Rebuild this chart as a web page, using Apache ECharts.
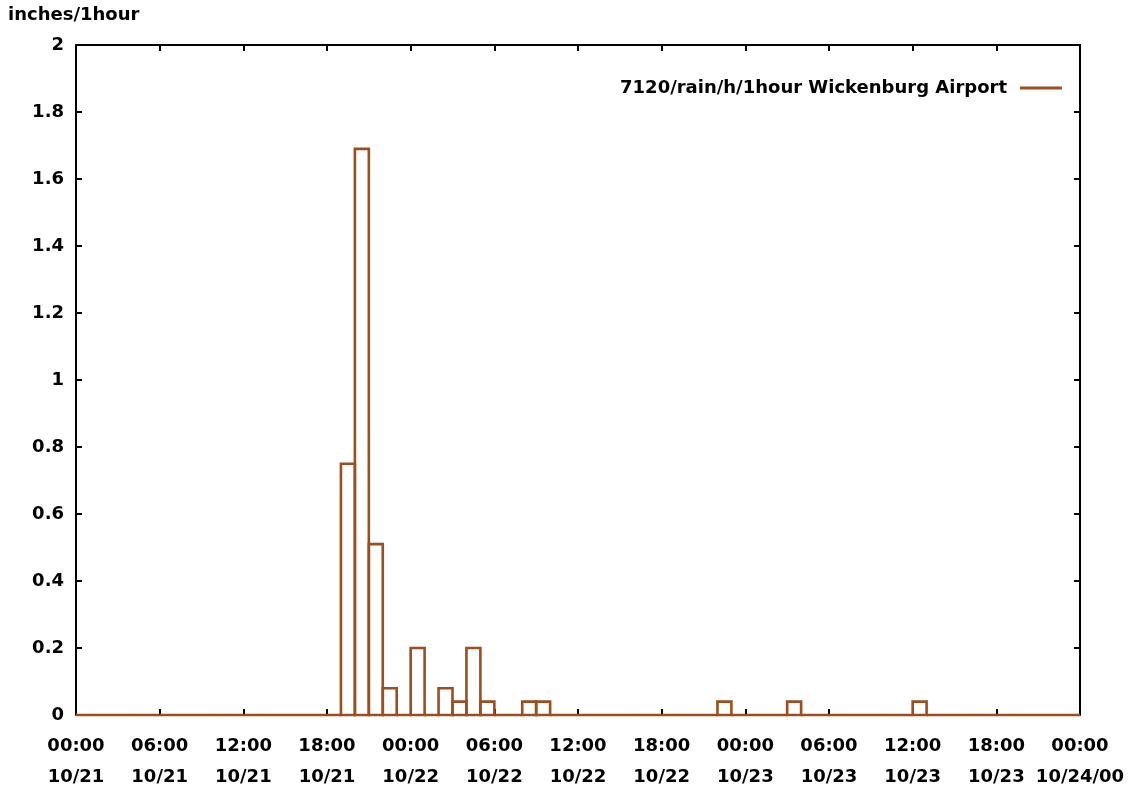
<!DOCTYPE html>
<html>
<head>
<meta charset="utf-8">
<script src="https://cdn.jsdelivr.net/npm/echarts@6/dist/echarts.min.js"></script>
<style>
html,body{margin:0;padding:0;background:#fff;}
#chart{width:1131px;height:792px;}
</style>
</head>
<body>
<div id="chart"></div>
<script>
// Hourly rain (inches per hour), 00:00 10/21 .. 23:00 10/23 (72 hours)
var rainValues = [
  0, 0, 0, 0, 0, 0, 0, 0, 0, 0, 0, 0,
  0, 0, 0, 0, 0, 0, 0, 0.75, 1.69, 0.51, 0.08, 0,
  0.2, 0, 0.08, 0.04, 0.2, 0.04, 0, 0, 0.04, 0.04, 0, 0,
  0, 0, 0, 0, 0, 0, 0, 0, 0, 0, 0.04, 0,
  0, 0, 0, 0.04, 0, 0, 0, 0, 0, 0, 0, 0,
  0.04, 0, 0, 0, 0, 0, 0, 0, 0, 0, 0, 0
];
var xTickLabels = [
  '00:00\n10/21', '06:00\n10/21', '12:00\n10/21', '18:00\n10/21',
  '00:00\n10/22', '06:00\n10/22', '12:00\n10/22', '18:00\n10/22',
  '00:00\n10/23', '06:00\n10/23', '12:00\n10/23', '18:00\n10/23',
  '00:00\n10/24/00'
];
var seriesName = '7120/rain/h/1hour Wickenburg Airport';
var yAxisTitle = 'inches/1hour';

var COLOR = '#9c4e1c';
var FONT = 'DejaVu Sans';
var FS = 18;
var BOX_LW = 2.6;

// each box starts at its hour index (hours since 00:00 10/21) and is one hour wide
var boxData = rainValues.map(function (v, i) { return [i, v]; });

var chart = echarts.init(document.getElementById('chart'), null, {renderer: 'canvas'});

function axisLine(color) {
  return {show: true, onZero: false, lineStyle: {color: color || '#000', width: 2}};
}
function ticks() {
  return {show: true, inside: true, length: 6, lineStyle: {color: '#000', width: 2}};
}

chart.setOption({
  animation: false,
  backgroundColor: '#fff',
  title: {
    text: yAxisTitle,
    left: 8, top: 6, padding: 0,
    textStyle: {fontFamily: FONT, fontWeight: 'bold', fontSize: FS, color: '#000'}
  },
  legend: {
    right: 69, top: 79, padding: 0,
    align: 'right',
    icon: 'rect',
    itemWidth: 42, itemHeight: 3,
    data: [{name: seriesName, itemStyle: {color: COLOR, borderWidth: 0}}],
    textStyle: {fontFamily: FONT, fontWeight: 'bold', fontSize: FS, color: '#000', padding: [0, 8, 0, 0]}
  },
  grid: {left: 76, right: 51, top: 45, bottom: 77, containLabel: false, outerBoundsMode: 'none'},
  xAxis: [{
    type: 'value', min: 0, max: 72, interval: 6, position: 'bottom',
    axisLine: axisLine(COLOR),
    axisTick: ticks(),
    splitLine: {show: false},
    axisLabel: {
      margin: 16, lineHeight: 31,
      fontFamily: FONT, fontWeight: 'bold', fontSize: FS, color: '#000',
      formatter: function (v) { return xTickLabels[Math.round(v / 6)]; }
    }
  }, {
    type: 'value', min: 0, max: 72, interval: 6, position: 'top',
    axisLine: axisLine(), axisTick: ticks(),
    splitLine: {show: false}, axisLabel: {show: false}
  }],
  yAxis: [{
    type: 'value', min: 0, max: 2, interval: 0.2, position: 'left',
    axisLine: axisLine(), axisTick: ticks(),
    splitLine: {show: false},
    axisLabel: {margin: 12, fontFamily: FONT, fontWeight: 'bold', fontSize: FS, color: '#000'}
  }, {
    type: 'value', min: 0, max: 2, interval: 0.2, position: 'right',
    axisLine: axisLine(), axisTick: ticks(),
    splitLine: {show: false}, axisLabel: {show: false}
  }],
  series: [{
    name: seriesName,
    type: 'custom',
    xAxisIndex: 0, yAxisIndex: 0,
    data: boxData,
    encode: {x: 0, y: 1},
    itemStyle: {color: COLOR},
    clip: false,
    z: 3,
    renderItem: function (params, api) {
      var h = api.value(0), v = api.value(1);
      var top = api.coord([h, v]);
      var bottom = api.coord([h + 1, 0]);
      return {
        type: 'rect',
        shape: {x: top[0], y: top[1], width: bottom[0] - top[0], height: bottom[1] - top[1]},
        style: {fill: 'none', stroke: COLOR, lineWidth: BOX_LW}
      };
    }
  }]
});
</script>
</body>
</html>
